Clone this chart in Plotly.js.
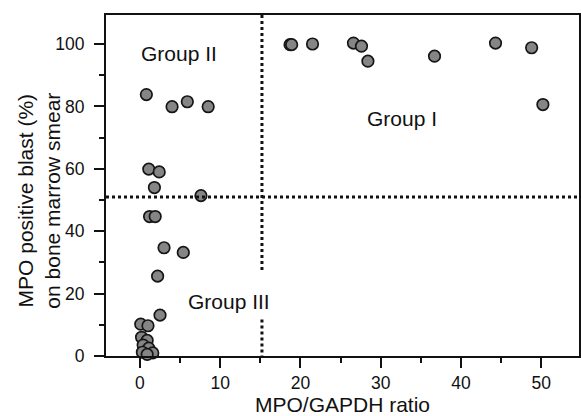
<!DOCTYPE html>
<html>
<head>
<meta charset="utf-8">
<script src="https://cdn.plot.ly/plotly-3.0.1.min.js"></script>
<style>html,body{margin:0;padding:0;background:#fff;}#chart{width:581px;height:416px;}</style>
</head>
<body>
<div id="chart"></div>
<script>
// MPO/GAPDH ratio (x) vs MPO positive blast % (y)
const ratio = [18.7, 18.9, 21.5, 26.6, 27.6, 28.4, 36.7, 44.3, 48.8, 50.2,
               0.8, 4.0, 5.9, 8.5, 1.1, 2.4, 1.8, 7.6,
               1.2, 1.9, 3.0, 5.4, 2.2, 2.5,
               0.1, 1.0, 0.2, 0.9, 0.4, 1.1, 0.3, 1.6, 0.9];
const blast = [99.8, 99.8, 100.0, 100.3, 99.3, 94.5, 96.1, 100.3, 98.8, 80.6,
               83.8, 79.9, 81.5, 79.9, 59.9, 59.0, 54.0, 51.4,
               44.7, 44.7, 34.7, 33.2, 25.6, 13.1,
               10.2, 9.7, 6.0, 5.0, 3.5, 2.5, 1.2, 1.0, 0.5];
const groupNames = ["Group I", "Group II", "Group III"];
const groupX = [32.6, 4.85, 11.1];
const groupY = [76, 97.1, 17.6];
const xTitle = "MPO/GAPDH ratio";
const yTitle = "MPO positive blast (%)<br>on bone marrow smear";
const xCut = 15.2;
const yCut = 51;

const FONT = "Liberation Sans, Arial, Helvetica, sans-serif";

const trace = {
  x: ratio, y: blast, type: "scatter", mode: "markers",
  cliponaxis: false,
  marker: {size: 11.5, color: "#858585", line: {color: "#151515", width: 1.7}},
  hoverinfo: "skip"
};

const annotations = groupNames.map((t, i) => ({
  x: groupX[i], y: groupY[i], xref: "x", yref: "y", text: t, showarrow: false,
  font: {family: FONT, size: 21, color: "#111"}
}));
annotations.push({
  x: -0.1435, y: 0.456, xref: "paper", yref: "paper", text: yTitle, showarrow: false,
  textangle: -90, xanchor: "center", yanchor: "middle",
  font: {family: FONT, size: 21, color: "#111"}
});

const dotLine = {color: "#111", width: 3, dash: "dot"};
const shapes = [
  {type: "line", xref: "x", yref: "paper", x0: xCut, x1: xCut, y0: 1, y1: 26.7 / 109.3, line: dotLine},
  {type: "line", xref: "x", yref: "paper", x0: xCut, x1: xCut, y0: 11.7 / 109.3, y1: 0, line: dotLine},
  {type: "line", xref: "paper", yref: "y", x0: 0, x1: 1, y0: yCut, y1: yCut, line: dotLine}
];

const layout = {
  width: 581, height: 416,
  margin: {l: 106, r: 2, t: 15, b: 60},
  paper_bgcolor: "#fff", plot_bgcolor: "#fff",
  showlegend: false,
  font: {family: FONT, color: "#111"},
  xaxis: {
    range: [-4.23, 54.7], tickvals: [0, 10, 20, 30, 40, 50],
    ticks: "outside", ticklen: 10, tickwidth: 2, tickcolor: "#111",
    showline: true, linewidth: 2, linecolor: "#111", mirror: true,
    showgrid: false, zeroline: false,
    tickfont: {family: FONT, size: 17.5, color: "#111"},
    minor: {ticks: "outside", ticklen: 5, tickwidth: 2, tickcolor: "#111", tickvals: [5, 15, 25, 35, 45], showgrid: false},
    title: {text: xTitle, font: {family: FONT, size: 21, color: "#111"}, standoff: 5}
  },
  yaxis: {
    range: [0, 109.3], tickvals: [0, 20, 40, 60, 80, 100],
    ticks: "outside", ticklen: 10, tickwidth: 2, tickcolor: "#111",
    showline: true, linewidth: 2, linecolor: "#111", mirror: true,
    showgrid: false, zeroline: false,
    tickfont: {family: FONT, size: 17.5, color: "#111"},
    ticklabelstandoff: 6,
    minor: {ticks: "outside", ticklen: 5, tickwidth: 2, tickcolor: "#111", tickvals: [10, 30, 50, 70, 90], showgrid: false}
  },
  annotations: annotations,
  shapes: shapes
};

Plotly.newPlot("chart", [trace], layout, {staticPlot: true, displayModeBar: false});
</script>
</body>
</html>
